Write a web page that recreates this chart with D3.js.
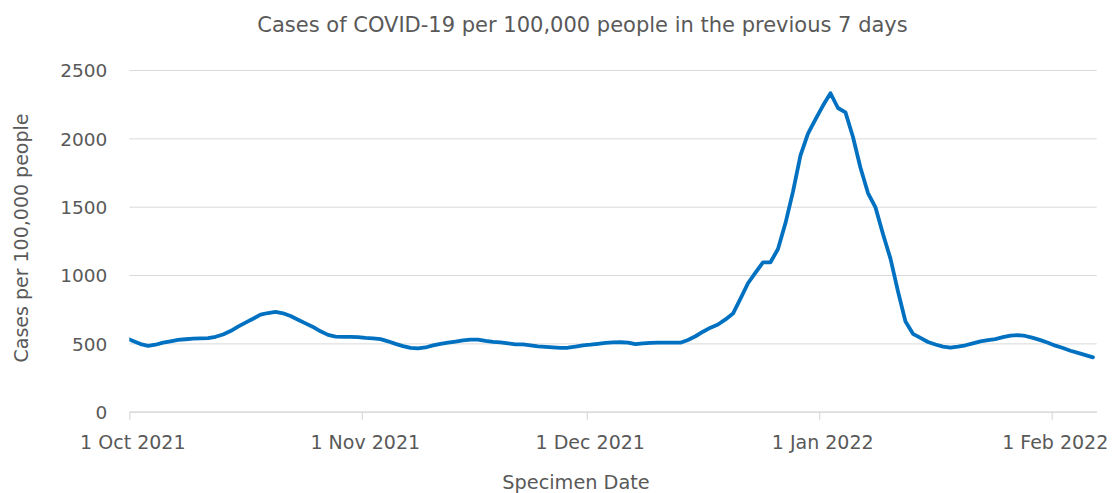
<!DOCTYPE html>
<html lang="en">

<head>
  <meta charset="UTF-8">
  <title>Cases of COVID-19 per 100,000 people</title>
  <style>
    html,
    body {
      width: 100%;
      margin: 0;
      background: #fff;
    }

    svg text {
      font-family: 'DejaVu Sans', sans-serif;
      fill: #595959;
    }
  </style>
  <script src="https://cdn.jsdelivr.net/npm/d3@7/dist/d3.min.js"></script>
</head>

<body>
  <script>
    // canvas size
    const width = 1114
    const height = 493

    // plot area (Excel-like chart inner box)
    const plot = { left: 129.3, right: 1096.7, top: 70, bottom: 411.7 }

    // 7-day rate per 100,000, one value per specimen date, starting 30 Sep 2021
    const septemberValues = [540]
    const octoberValues = [518, 495, 482, 490, 505, 515, 525, 530, 535, 537, 538, 548, 565, 590, 622, 652,
      680, 710, 722, 730, 720, 700, 673, 646, 620, 588, 562, 550, 547, 547, 545]
    const novemberValues = [540, 537, 531, 515, 496, 480, 467, 464, 470, 485, 497, 505, 513, 521, 528,
      528, 518, 511, 507, 500, 492, 492, 485, 478, 474, 470, 467, 468, 476, 485]
    const decemberValues = [490, 497, 503, 507, 508, 506, 494, 500, 503, 505, 505, 505, 505, 525, 552,
      585, 615, 638, 675, 718, 828, 940, 1018, 1093, 1093, 1190, 1380, 1610, 1875, 2035, 2138]
    const januaryValues = [2240, 2330, 2222, 2190, 2010, 1785, 1600, 1495, 1300, 1120, 880, 660, 570,
      540, 510, 492, 476, 468, 476, 486, 500, 515, 524, 531, 545, 557, 560, 554, 540, 524, 505]
    const februaryValues = [483, 466, 446, 430, 414, 398]

    const yTicks = [0, 500, 1000, 1500, 2000, 2500]
    const axisStart = new Date(2021, 9, 1)
    const axisEnd = new Date(2022, 1, 7)

    const values = [].concat(septemberValues, octoberValues, novemberValues,
      decemberValues, januaryValues, februaryValues)
    // each daily point sits in the middle of its day
    const data = values.map((v, i) => ({ date: new Date(2021, 8, 30 + i, 12), value: v }))

    // 1 canvas
    const svg = d3.select('body').append('svg')
      .attr('width', width)
      .attr('height', height)

    // 2 scales
    const xScale = d3.scaleTime()
      .domain([axisStart, axisEnd])
      .range([plot.left, plot.right])

    const yScale = d3.scaleLinear()
      .domain([0, 2500])
      .range([plot.bottom, plot.top])

    // 3 horizontal gridlines + y labels
    const gy = svg.append('g')
      .attr('transform', `translate(${plot.left}, 0)`)
      .call(d3.axisLeft(yScale)
        .tickValues(yTicks)
        .tickFormat(d3.format('d'))
        .tickSize(-(plot.right - plot.left))
        .tickPadding(22))
    gy.select('.domain').remove()
    gy.selectAll('.tick line').attr('stroke', '#d9d9d9').attr('stroke-width', 1)
    gy.selectAll('.tick text')
      .attr('font-size', '18.5px')
      .attr('font-family', null)
      .attr('dy', '0.36em')

    // 4 x axis (month ticks hanging below the baseline)
    const gx = svg.append('g')
      .attr('transform', `translate(0, ${plot.bottom})`)
      .call(d3.axisBottom(xScale)
        .ticks(d3.timeMonth.every(1))
        .tickFormat(d3.timeFormat('%-d %b %Y'))
        .tickSizeInner(8)
        .tickSizeOuter(0)
        .tickPadding(16))
    gx.select('.domain').attr('stroke', '#d9d9d9').attr('stroke-width', 1.2)
    gx.selectAll('.tick line').attr('stroke', '#d9d9d9').attr('stroke-width', 1.2)
    gx.selectAll('.tick text')
      .attr('font-size', '19px')
      .attr('font-family', null)
      .attr('dx', '3px')

    // 5 the line, clipped to the plot box
    svg.append('clipPath')
      .attr('id', 'plotClip')
      .append('rect')
      .attr('x', plot.left)
      .attr('y', 0)
      .attr('width', plot.right - plot.left + 4)
      .attr('height', height)

    const line = d3.line()
      .x(d => xScale(d.date))
      .y(d => yScale(d.value))

    svg.append('path')
      .datum(data)
      .attr('clip-path', 'url(#plotClip)')
      .attr('fill', 'none')
      .attr('stroke', '#0070c0')
      .attr('stroke-width', 3.8)
      .attr('stroke-linejoin', 'round')
      .attr('stroke-linecap', 'round')
      .attr('d', line)

    // 6 titles
    svg.append('text')
      .attr('x', 582.5)
      .attr('y', 31.5)
      .attr('text-anchor', 'middle')
      .attr('font-size', '21px')
      .text('Cases of COVID-19 per 100,000 people in the previous 7 days')

    svg.append('text')
      .attr('transform', `translate(28, 238) rotate(-90)`)
      .attr('text-anchor', 'middle')
      .attr('font-size', '19px')
      .text('Cases per 100,000 people')

    svg.append('text')
      .attr('x', 576)
      .attr('y', 489)
      .attr('text-anchor', 'middle')
      .attr('font-size', '19.3px')
      .text('Specimen Date')
  </script>
</body>

</html>
